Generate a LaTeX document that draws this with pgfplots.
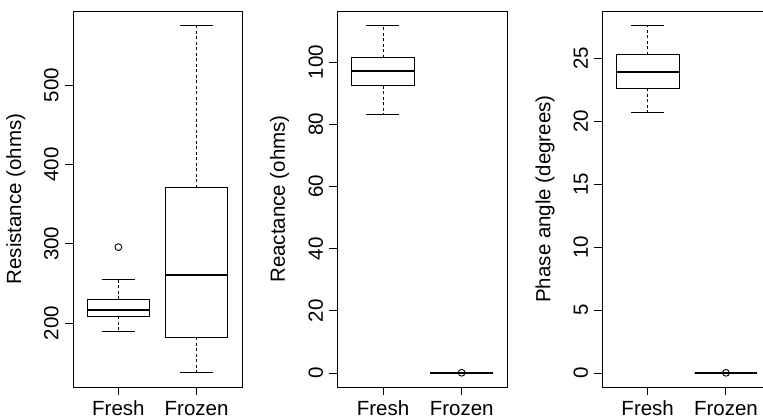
\documentclass[border=0pt]{standalone}
\usepackage{fontspec}
\setmainfont{Liberation Sans}
\usepackage{pgfplots}
\pgfplotsset{compat=1.18}
\usepgfplotslibrary{statistics}

\pgfplotsset{
  rpanel/.style={
    scale only axis,
    anchor=south west,
    width=169pt, height=376pt,
    xmin=0.42, xmax=2.58,
    xtick={1,2}, xticklabels={Fresh,Frozen},
    tick align=outside,
    major tick length=8pt,
    xtick pos=bottom, ytick pos=left,
    axis line style={line width=0.9pt},
    every tick/.style={black, line width=0.9pt},
    /pgf/number format/assume math mode=true,
    tick label style={font=\fontsize{20.5}{24}\selectfont},
    yticklabel style={xshift=-6.5pt, rotate=90, anchor=base, inner sep=0pt},
    xticklabel style={yshift=-20.5pt, anchor=base, inner sep=0pt},
    ylabel style={font=\fontsize{20.5}{24}\selectfont, at={(axis description cs:-0.3077,0.5)}, rotate=0, anchor=base, inner sep=0pt},
    clip=false,
  },
  rbox/.style={
    black,
    boxplot/draw direction=y,
    boxplot/box extend=0.8,
    boxplot/whisker extend=0.42,
    boxplot/every box/.style={draw=black, line width=0.9pt},
    boxplot/every median/.style={draw=black, line width=2.2pt},
    boxplot/draw/lower whisker/.code={%
      \draw[black, line width=0.9pt, dash pattern=on 3pt off 2.5pt]
        (boxplot cs:\pgfplotsboxplotvalue{lower quartile}) -- (boxplot cs:\pgfplotsboxplotvalue{lower whisker});
      \draw[black, line width=0.9pt]
        (boxplot whisker cs:\pgfplotsboxplotvalue{lower whisker},0) -- (boxplot whisker cs:\pgfplotsboxplotvalue{lower whisker},1);
    },
    boxplot/draw/upper whisker/.code={%
      \draw[black, line width=0.9pt, dash pattern=on 3pt off 2.5pt]
        (boxplot cs:\pgfplotsboxplotvalue{upper quartile}) -- (boxplot cs:\pgfplotsboxplotvalue{upper whisker});
      \draw[black, line width=0.9pt]
        (boxplot whisker cs:\pgfplotsboxplotvalue{upper whisker},0) -- (boxplot whisker cs:\pgfplotsboxplotvalue{upper whisker},1);
    },
    mark=o, mark size=3.4pt, mark options={solid, black, line width=0.9pt},
  },
}

\begin{document}
\begin{tikzpicture}
\path[use as bounding box] (0,0) rectangle (763pt,418pt);

% Panel 1: Resistance
\begin{axis}[rpanel, at={(73pt,31pt)},
  ymin=119.5, ymax=593.4, ytick={200,300,400,500},
  ylabel={Resistance (ohms)}]
\addplot[rbox, boxplot prepared={draw position=1,
  lower whisker=190, lower quartile=208.4, median=216.8,
  upper quartile=229.9, upper whisker=254.6}]
  table[row sep=\\, y index=0] {data\\ 295.8\\};
\addplot[rbox, boxplot prepared={draw position=2,
  lower whisker=137.8, lower quartile=182, median=261,
  upper quartile=370.6, upper whisker=575.8}]
  coordinates {};
\end{axis}

% Panel 2: Reactance
\begin{axis}[rpanel, at={(337.3pt,31pt)}, width=170pt,
  ymin=-4.48, ymax=116.4, ytick={0,20,40,60,80,100},
  ylabel={Reactance (ohms)}]
\addplot[rbox, boxplot prepared={draw position=1,
  lower whisker=83.0, lower quartile=92.4, median=97.0,
  upper quartile=101.4, upper whisker=111.9}]
  coordinates {};
\addplot[rbox, boxplot prepared={draw position=2,
  lower whisker=0, lower quartile=0, median=0,
  upper quartile=0, upper whisker=0}]
  table[row sep=\\, y index=0] {data\\ 0.1\\};
\end{axis}

% Panel 3: Phase angle
\begin{axis}[rpanel, at={(602.3pt,31pt)},
  ymin=-1.105, ymax=28.74, ytick={0,5,10,15,20,25},
  ylabel={Phase angle (degrees)}]
\addplot[rbox, boxplot prepared={draw position=1,
  lower whisker=20.7, lower quartile=22.59, median=23.89,
  upper quartile=25.26, upper whisker=27.63}]
  coordinates {};
\addplot[rbox, boxplot prepared={draw position=2,
  lower whisker=0, lower quartile=0, median=0,
  upper quartile=0, upper whisker=0}]
  table[row sep=\\, y index=0] {data\\ 0.02\\};
\end{axis}
\end{tikzpicture}
\end{document}
